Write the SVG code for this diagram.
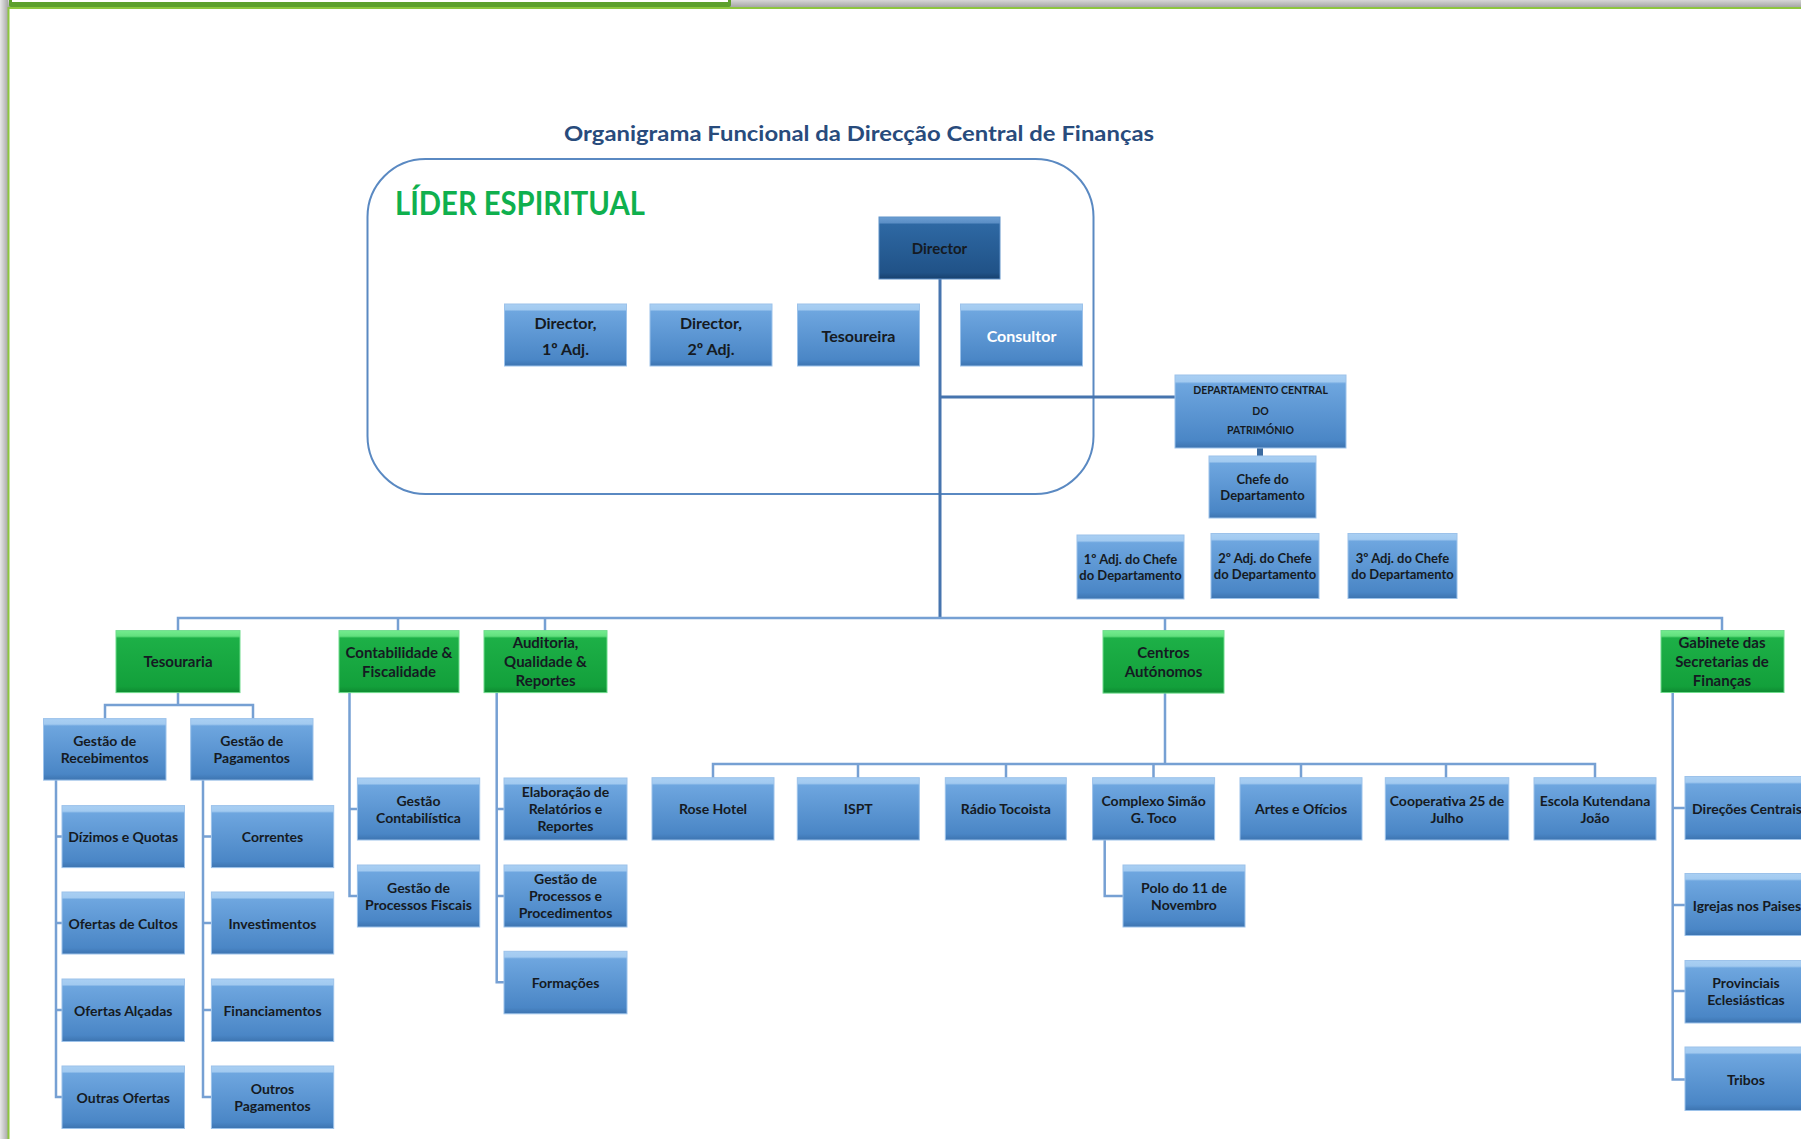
<svg xmlns="http://www.w3.org/2000/svg" width="1801" height="1139" viewBox="0 0 1801 1139">
<defs>
<linearGradient id="gb" x1="0" y1="0" x2="0" y2="1">
<stop offset="0" stop-color="#A9CFF3"/><stop offset="0.09" stop-color="#A2CAF0"/><stop offset="0.12" stop-color="#6EA6DF"/><stop offset="0.9" stop-color="#4A86C6"/><stop offset="1" stop-color="#3D74B0"/>
</linearGradient>
<linearGradient id="gg" x1="0" y1="0" x2="0" y2="1">
<stop offset="0" stop-color="#74EC8F"/><stop offset="0.09" stop-color="#62E07E"/><stop offset="0.12" stop-color="#1DB047"/><stop offset="0.9" stop-color="#13A03B"/><stop offset="1" stop-color="#0E8A31"/>
</linearGradient>
<linearGradient id="gd" x1="0" y1="0" x2="0" y2="1">
<stop offset="0" stop-color="#6A9DD2"/><stop offset="0.09" stop-color="#5C8FC6"/><stop offset="0.12" stop-color="#2E68A3"/><stop offset="0.9" stop-color="#205287"/><stop offset="1" stop-color="#17406D"/>
</linearGradient>
<linearGradient id="gtop" x1="0" y1="0" x2="0" y2="1">
<stop offset="0" stop-color="#D6D6D6"/><stop offset="1" stop-color="#A6A6A6"/>
</linearGradient>
<linearGradient id="gleft" x1="0" y1="0" x2="1" y2="0">
<stop offset="0" stop-color="#E8E8E8"/><stop offset="1" stop-color="#A8A8A8"/>
</linearGradient>
</defs>
<style>
.b rect{fill:url(#gb);stroke:#9CC2EA;stroke-width:1}
.g rect{fill:url(#gg);stroke:#6FDC8C;stroke-width:1}
.d rect{fill:url(#gd);stroke:#5F91C8;stroke-width:1}
text{font-family:Lato,"Liberation Sans",sans-serif;font-weight:700;fill:#151a22;text-anchor:middle;dominant-baseline:central}
.s16{font-size:16px}.s15{font-size:15px}.s14{font-size:14px}.s13{font-size:13px}.s11{font-size:10.5px}
#connectors path{fill:none;stroke:#76A0D3;stroke-width:2.5}
#connectors .main{stroke:#4674AE;stroke-width:3}
#connectors .thick{stroke:#3B6A9F;stroke-width:6}
</style>
<rect width="1801" height="1139" fill="#FFFFFF"/>
<rect x="0" y="0" width="1801" height="7" fill="url(#gtop)"/>
<rect x="0" y="0" width="8" height="1139" fill="url(#gleft)"/>
<rect x="9" y="-3" width="722" height="10" rx="2" fill="#5DA02C"/>
<rect x="12" y="-3" width="716" height="5" fill="#FFFFFF"/>
<rect x="8" y="7" width="1793" height="2" fill="#8DC63F"/>
<rect x="7.5" y="7" width="2" height="1132" fill="#8DC63F"/>

<text x="859" y="132" font-size="21" style="fill:#284B7C" textLength="590" lengthAdjust="spacingAndGlyphs">Organigrama Funcional da Direcção Central de Finanças</text>

<rect x="367.5" y="159" width="726" height="335" rx="58" fill="none" stroke="#5A89C2" stroke-width="2"/>
<text x="395" y="202" font-size="32" style="fill:#0FB04E;text-anchor:start" textLength="250" lengthAdjust="spacingAndGlyphs">LÍDER ESPIRITUAL</text>

<g id="connectors">
<path class="main" d="M940 279V618"/>
<path class="main" d="M940 397H1175"/>
<path class="thick" d="M1260 448V456"/>
<path d="M178 631V618H1722V630"/>
<path d="M398 618V631M545 618V631M1165 618V631"/>
<path d="M178 692V705M105 719V705H253V719"/>
<path d="M56 780V1097H62M56 836.6H62M56 923H62M56 1010H62"/>
<path d="M203 780V1097H211M203 836.6H211M203 923H211M203 1010H211"/>
<path d="M349.5 692V896H357M349.5 809H357"/>
<path d="M496.7 692V982.3H504M496.7 809H504M496.7 896H504"/>
<path d="M1165 693V764M713 778V764H1595V778M858 764V778M1006 764V778M1153.5 764V778M1301 764V778M1446 764V778"/>
<path d="M1104.7 840V896H1123"/>
<path d="M1672.7 692V1079.5H1685M1672.7 808H1685M1672.7 905H1685M1672.7 991H1685"/>
</g>

<g id="n-director" class="d"><rect x="879" y="217" width="121" height="62"/><text class="s15" x="939.5" y="248">Director</text></g>
<g id="n-adj1" class="b"><rect x="504.5" y="304" width="122" height="62"/><text class="s16" x="565.5" y="322">Director,</text><text class="s16" x="565.5" y="348">1º Adj.</text></g>
<g id="n-adj2" class="b"><rect x="650" y="304" width="122" height="62"/><text class="s16" x="711" y="322">Director,</text><text class="s16" x="711" y="348">2º Adj.</text></g>
<g id="n-tesoureira" class="b"><rect x="797.5" y="304" width="122" height="62"/><text class="s16" x="858.5" y="335">Tesoureira</text></g>
<g id="n-consultor" class="b"><rect x="960.5" y="304" width="122" height="62"/><text class="s16" x="1021.5" y="335" style="fill:#FFFFFF">Consultor</text></g>

<g id="n-dcp" class="b"><rect x="1175" y="375" width="171" height="73"/><text class="s11" x="1260.5" y="390">DEPARTAMENTO CENTRAL</text><text class="s11" x="1260.5" y="410.5">DO</text><text class="s11" x="1260.5" y="429.5">PATRIMÓNIO</text></g>
<g id="n-chefe" class="b"><rect x="1209" y="456" width="107" height="62"/><text class="s13" x="1262.5" y="479">Chefe do</text><text class="s13" x="1262.5" y="495">Departamento</text></g>
<g id="n-adjc1" class="b"><rect x="1077" y="535" width="107" height="64"/><text class="s13" x="1130.5" y="559">1º Adj. do Chefe</text><text class="s13" x="1130.5" y="574.5">do Departamento</text></g>
<g id="n-adjc2" class="b"><rect x="1211" y="533.5" width="108" height="65"/><text class="s13" x="1265" y="557.5">2º Adj. do Chefe</text><text class="s13" x="1265" y="574">do Departamento</text></g>
<g id="n-adjc3" class="b"><rect x="1348" y="533.5" width="109" height="65"/><text class="s13" x="1402.5" y="557.5">3º Adj. do Chefe</text><text class="s13" x="1402.5" y="574">do Departamento</text></g>

<g id="n-tesouraria" class="g"><rect x="116" y="630.6" width="124" height="62"/><text class="s15" x="178" y="661">Tesouraria</text></g>
<g id="n-contab" class="g"><rect x="339" y="630.6" width="120" height="62"/><text class="s15" x="399" y="652.3">Contabilidade &amp;</text><text class="s15" x="399" y="671.2">Fiscalidade</text></g>
<g id="n-auditoria" class="g"><rect x="484" y="630.6" width="123" height="62"/><text class="s15" x="545.5" y="642">Auditoria,</text><text class="s15" x="545.5" y="661">Qualidade &amp;</text><text class="s15" x="545.5" y="680">Reportes</text></g>
<g id="n-centros" class="g"><rect x="1103" y="630.6" width="121" height="62.5"/><text class="s15" x="1163.5" y="652.3">Centros</text><text class="s15" x="1163.5" y="671">Autónomos</text></g>
<g id="n-gabinete" class="g"><rect x="1661" y="630.5" width="123" height="62"/><text class="s15" x="1722" y="642">Gabinete das</text><text class="s15" x="1722" y="661">Secretarias de</text><text class="s15" x="1722" y="680">Finanças</text></g>

<g id="n-receb" class="b"><rect x="43.5" y="718.6" width="122.5" height="61.5"/><text class="s14" x="104.7" y="740.5">Gestão de</text><text class="s14" x="104.7" y="757.5">Recebimentos</text></g>
<g id="n-pagam" class="b"><rect x="190.7" y="718.6" width="122.3" height="61.5"/><text class="s14" x="251.8" y="740.5">Gestão de</text><text class="s14" x="251.8" y="757.5">Pagamentos</text></g>
<g id="n-dizimos" class="b"><rect x="62" y="805.6" width="122.5" height="62"/><text class="s14" x="123.2" y="836">Dízimos e Quotas</text></g>
<g id="n-ofcultos" class="b"><rect x="62" y="892" width="122.5" height="62"/><text class="s14" x="123.2" y="923">Ofertas de Cultos</text></g>
<g id="n-ofalcadas" class="b"><rect x="62" y="979" width="122.5" height="62.5"/><text class="s14" x="123.2" y="1010">Ofertas Alçadas</text></g>
<g id="n-outrasof" class="b"><rect x="62" y="1066" width="122.5" height="62.5"/><text class="s14" x="123.2" y="1097">Outras Ofertas</text></g>
<g id="n-correntes" class="b"><rect x="211.4" y="805.6" width="122.3" height="62"/><text class="s14" x="272.5" y="836">Correntes</text></g>
<g id="n-invest" class="b"><rect x="211.4" y="892" width="122.3" height="62"/><text class="s14" x="272.5" y="923">Investimentos</text></g>
<g id="n-financ" class="b"><rect x="211.4" y="979" width="122.3" height="62.5"/><text class="s14" x="272.5" y="1010">Financiamentos</text></g>
<g id="n-outrospag" class="b"><rect x="211.4" y="1066" width="122.3" height="62.5"/><text class="s14" x="272.5" y="1088">Outros</text><text class="s14" x="272.5" y="1105">Pagamentos</text></g>

<g id="n-gcontab" class="b"><rect x="357.4" y="778" width="122.3" height="62"/><text class="s14" x="418.5" y="800">Gestão</text><text class="s14" x="418.5" y="817">Contabilística</text></g>
<g id="n-gfiscais" class="b"><rect x="357.4" y="865" width="122.3" height="62"/><text class="s14" x="418.5" y="887">Gestão de</text><text class="s14" x="418.5" y="904">Processos Fiscais</text></g>

<g id="n-elab" class="b"><rect x="504" y="778" width="123" height="62"/><text class="s14" x="565.5" y="791">Elaboração de</text><text class="s14" x="565.5" y="808">Relatórios e</text><text class="s14" x="565.5" y="825">Reportes</text></g>
<g id="n-gproc" class="b"><rect x="504" y="865" width="123" height="62"/><text class="s14" x="565.5" y="878">Gestão de</text><text class="s14" x="565.5" y="895.5">Processos e</text><text class="s14" x="565.5" y="912.5">Procedimentos</text></g>
<g id="n-formacoes" class="b"><rect x="504" y="951.3" width="123" height="62.5"/><text class="s14" x="565.5" y="982.5">Formações</text></g>

<g id="n-rose" class="b"><rect x="652" y="777.7" width="122" height="62.3"/><text class="s14" x="713" y="808.5">Rose Hotel</text></g>
<g id="n-ispt" class="b"><rect x="797.3" y="777.7" width="122" height="62.3"/><text class="s14" x="858.3" y="808.5">ISPT</text></g>
<g id="n-radio" class="b"><rect x="945.3" y="777.7" width="121" height="62.3"/><text class="s14" x="1005.8" y="808.5">Rádio Tocoista</text></g>
<g id="n-complexo" class="b"><rect x="1092.6" y="777.7" width="122" height="62.3"/><text class="s14" x="1153.6" y="800">Complexo Simão</text><text class="s14" x="1153.6" y="817">G. Toco</text></g>
<g id="n-artes" class="b"><rect x="1240" y="777.7" width="122" height="62.3"/><text class="s14" x="1301" y="808.5">Artes e Ofícios</text></g>
<g id="n-coop" class="b"><rect x="1385.3" y="777.7" width="123.5" height="62.3"/><text class="s14" x="1447" y="800">Cooperativa 25 de</text><text class="s14" x="1447" y="817">Julho</text></g>
<g id="n-escola" class="b"><rect x="1534" y="777.7" width="122" height="62.3"/><text class="s14" x="1595" y="800">Escola Kutendana</text><text class="s14" x="1595" y="817">João</text></g>
<g id="n-polo" class="b"><rect x="1123" y="865" width="122" height="62"/><text class="s14" x="1184" y="887">Polo do 11 de</text><text class="s14" x="1184" y="904">Novembro</text></g>

<g id="n-direcoes" class="b"><rect x="1685" y="776.5" width="125" height="63"/><text class="s14" x="1747" y="808">Direções Centrais</text></g>
<g id="n-igrejas" class="b"><rect x="1685" y="873.5" width="125" height="62"/><text class="s14" x="1747" y="905">Igrejas nos Paises</text></g>
<g id="n-provinciais" class="b"><rect x="1685" y="960.5" width="125" height="62.5"/><text class="s14" x="1746" y="982.5">Provinciais</text><text class="s14" x="1746" y="999.5">Eclesiásticas</text></g>
<g id="n-tribos" class="b"><rect x="1685" y="1047" width="125" height="63.5"/><text class="s14" x="1746" y="1079.5">Tribos</text></g>
</svg>
